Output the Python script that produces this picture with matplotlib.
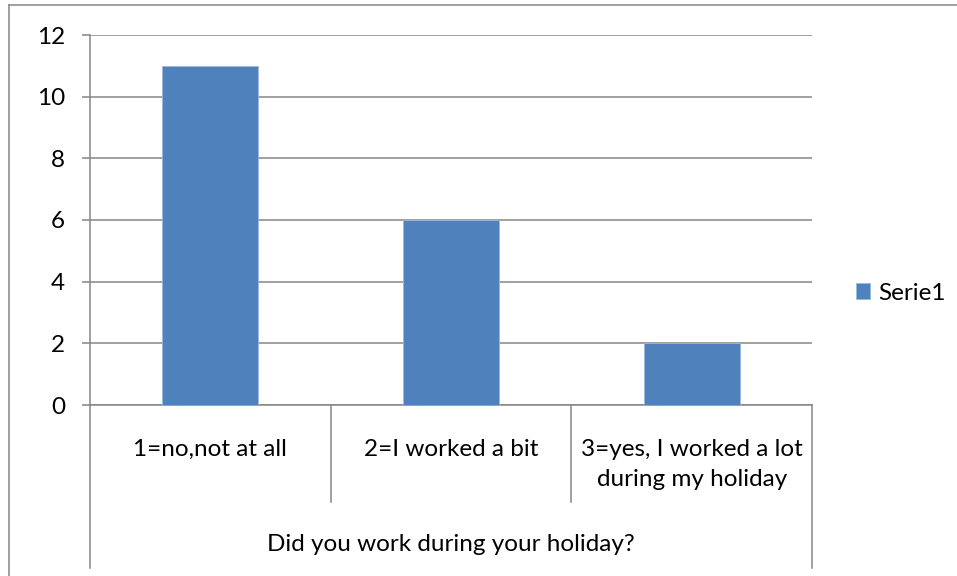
"""
Bar chart of the holiday work survey answers
"""
##
# ---------------------------------------------------------------------------------------------------------------------
# Cell to Import Libraries
# ---------------------------------------------------------------------------------------------------------------------
import matplotlib
matplotlib.use('Agg')
import matplotlib.pyplot as plt
from matplotlib.lines import Line2D

# Define variable
categories = ['1=no,not at all', '2=I worked a bit', '3=yes, I worked a lot\nduring my holiday']
values = [11, 6, 2]
series_name = 'Serie1'
group_title = 'Did you work during your holiday?'
y_ticks = [0, 2, 4, 6, 8, 10, 12]

bar_color = '#4f81bd'
grid_color = '#868686'
font_size = 17.5
plt.rcParams['font.family'] = ['Lato', 'DejaVu Sans']
plt.rcParams['font.size'] = font_size

##
# ---------------------------------------------------------------------------------------------------------------------
# Figure and axes
# ---------------------------------------------------------------------------------------------------------------------
W, H = 957, 576
fig = plt.figure(figsize=(W / 100, H / 100), dpi=100)
ax = fig.add_axes([90 / W, 171 / H, 722 / W, 370 / H])

x = list(range(len(categories)))
ax.bar(x, values, width=0.4, color=bar_color, edgecolor='#9db8da', linewidth=0.6, label=series_name, zorder=3)

ax.set_xlim(-0.5, len(categories) - 0.5)
ax.set_ylim(0, 12)
ax.set_yticks(y_ticks)
ax.set_xticks([])

# Gridlines and axes
ax.yaxis.grid(True, color=grid_color, linewidth=1.1, zorder=0)
for side in ['top', 'right']:
    ax.spines[side].set_visible(False)
for side in ['left', 'bottom']:
    ax.spines[side].set_color(grid_color)
    ax.spines[side].set_linewidth(1.1)
ax.tick_params(axis='y', length=6, width=1.1, color=grid_color, pad=12, labelsize=font_size)

##
# ---------------------------------------------------------------------------------------------------------------------
# Two-level category axis
# ---------------------------------------------------------------------------------------------------------------------
trans = ax.get_xaxis_transform()
n = len(categories)
for i in range(n + 1):
    edge = i - 0.5
    low = -0.441 if i in (0, n) else -0.262
    ax.plot([edge, edge], [0, low], transform=trans, color=grid_color, linewidth=1.1, clip_on=False)

for i, label in enumerate(categories):
    ax.text(i, -0.092, label, transform=trans, ha='center', va='top', fontsize=font_size, linespacing=1.55)

ax.text((n - 1) / 2, -0.376, group_title, transform=trans, ha='center', va='center', fontsize=font_size)

##
# ---------------------------------------------------------------------------------------------------------------------
# Legend and chart border
# ---------------------------------------------------------------------------------------------------------------------
ax.legend(loc='center left', bbox_to_anchor=(834 / W, 1 - 293 / H), bbox_transform=fig.transFigure,
          frameon=False, handlelength=0.6, handleheight=0.6, handletextpad=0.3, fontsize=font_size)

fig.add_artist(Line2D([9 / W, 9 / W], [0, 1 - 5 / H], transform=fig.transFigure, color=grid_color, linewidth=1.1))
fig.add_artist(Line2D([9 / W, 1], [1 - 5 / H, 1 - 5 / H], transform=fig.transFigure, color=grid_color, linewidth=1.1))

fig.savefig('out.png', dpi=100)
